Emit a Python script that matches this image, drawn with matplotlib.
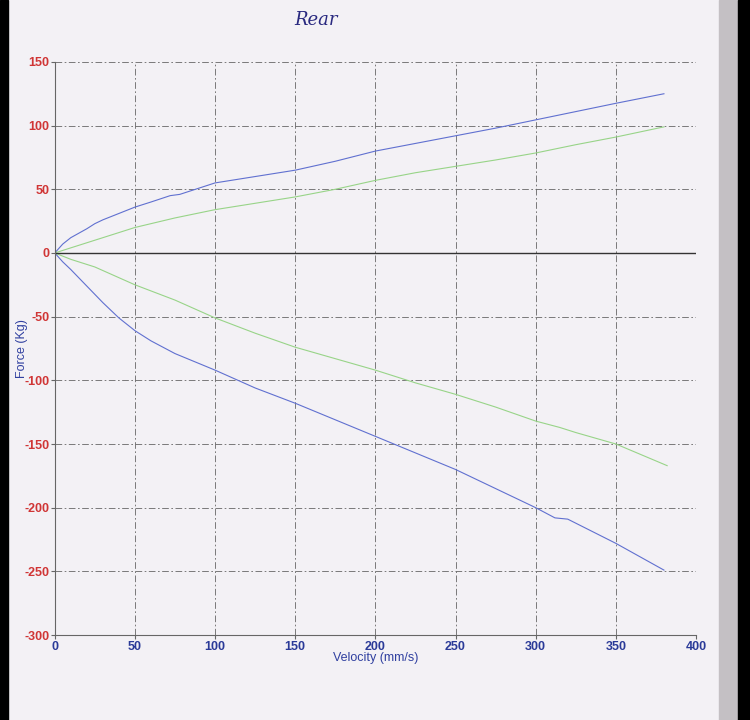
import numpy as np
import matplotlib.pyplot as plt
from matplotlib.patches import Rectangle

plt.rcParams['font.family'] = ['Liberation Sans', 'DejaVu Sans']
plt.rcParams['axes.unicode_minus'] = False

# velocity (mm/s) and force (Kg)
vel_rb = [0, 5, 10, 20, 25, 30, 40, 50, 60, 72, 78, 100, 125, 150, 175, 200, 225, 250, 275, 300, 325, 350, 380]
rebound_blue = [0, 7, 12, 19, 23, 26, 31, 36, 40, 45, 46, 55, 60, 65, 72, 80, 86, 92, 98, 104.5, 111, 117.5, 125]

vel_rg = [0, 10, 25, 40, 50, 75, 100, 125, 150, 175, 200, 225, 250, 275, 300, 325, 350, 380]
rebound_green = [0, 4, 10, 16, 20, 27.5, 34, 39, 44, 50, 57, 63, 68, 73, 78.5, 85, 91, 99]

vel_cb = [0, 5, 10, 20, 30, 40, 50, 60, 75, 100, 125, 150, 175, 200, 225, 250, 275, 300, 312, 320, 350, 380]
comp_blue = [0, -7, -13, -26, -39, -51, -61, -69, -79, -92, -106, -118, -131, -144, -157, -170, -185, -200, -208, -209, -228, -249]

vel_cg = [0, 10, 25, 50, 75, 100, 125, 150, 175, 200, 225, 250, 275, 300, 315, 325, 350, 382]
comp_green = [0, -5, -11, -25, -37, -51, -63, -74, -83, -92, -102, -111, -121, -132, -137, -141, -150, -167]

paper = '#f3f1f5'
fig = plt.figure(figsize=(7.5, 7.2), dpi=100, facecolor=paper)

# scan edges
fig.patches.append(Rectangle((0, 0), 8 / 750, 1, transform=fig.transFigure, color='black', zorder=-1))
fig.patches.append(Rectangle((719 / 750, 0), 19 / 750, 1, transform=fig.transFigure, color='#c4c0c4', zorder=-1))
fig.patches.append(Rectangle((738 / 750, 0), 12 / 750, 1, transform=fig.transFigure, color='black', zorder=-1))

ax = fig.add_axes([0.073, 0.118, 0.855, 0.796])
ax.set_facecolor(paper)

ax.plot(vel_rb, rebound_blue, color='#6070d0', lw=0.8)
ax.plot(vel_cb, comp_blue, color='#6070d0', lw=0.8)
ax.plot(vel_rg, rebound_green, color='#98d488', lw=0.8)
ax.plot(vel_cg, comp_green, color='#98d488', lw=0.8)
ax.axhline(0, color='#333333', lw=1.0)

ax.set_xlim(0, 400)
ax.set_ylim(-300, 150)
ax.set_xticks(np.arange(0, 401, 50))
ax.set_yticks(np.arange(-300, 151, 50))
ax.grid(True, color='#666666', ls=(0, (8, 3, 2, 3)), lw=0.6)

for s in ['top', 'right']:
    ax.spines[s].set_visible(False)
for s in ['left', 'bottom']:
    ax.spines[s].set_color('#666666')
    ax.spines[s].set_linewidth(0.8)

ax.tick_params(axis='y', colors='#666666', labelcolor='#d03535', labelsize=9, length=3, pad=1)
ax.tick_params(axis='x', colors='#666666', labelcolor='#2a3a98', labelsize=9, length=3, pad=1)
for t in ax.get_yticklabels() + ax.get_xticklabels():
    t.set_fontweight('bold')

ax.set_xlabel('Velocity (mm/s)', color='#3040a0', fontsize=9)
ax.set_ylabel('Force (Kg)', color='#3040a0', fontsize=9)
ax.xaxis.set_label_coords(0.5, -0.03)
ax.yaxis.set_label_coords(-0.042, 0.5)

fig.text(0.422, 0.972, 'Rear', color='#2a2a80', fontsize=13, style='italic',
         family='DejaVu Serif', ha='center', va='center')

fig.savefig('out.png', dpi=100, facecolor=paper)
